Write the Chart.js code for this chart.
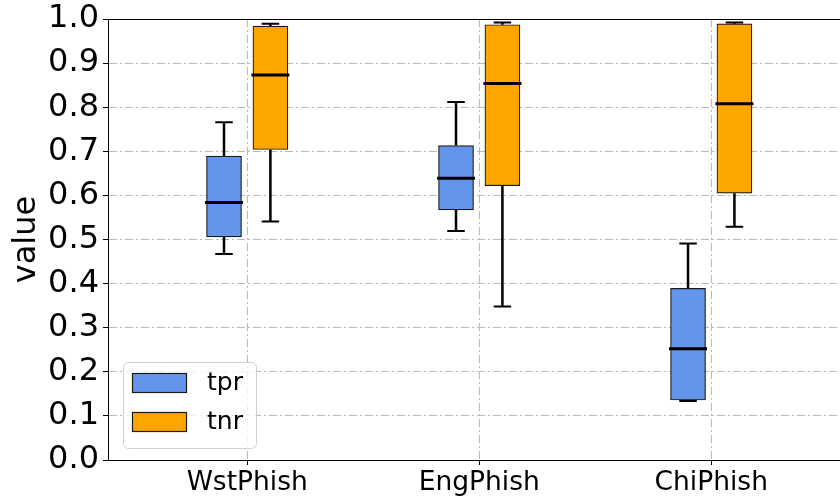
<!DOCTYPE html>
<html>
<head>
<meta charset="utf-8">
<script src="https://cdn.jsdelivr.net/npm/chart.js@4.4.1/dist/chart.umd.min.js"></script>
<style>
  html, body { margin: 0; padding: 0; background: #fff; overflow: hidden; }
  #wrap { width: 840px; height: 497px; }
</style>
</head>
<body>
<div id="wrap"><canvas id="c" width="840" height="497"></canvas></div>
<script>
// Categories and per-series five-number summaries
const categories = ['WstPhish', 'EngPhish', 'ChiPhish'];
const seriesNames = ['tpr', 'tnr'];

const tprMin    = [0.467, 0.519, 0.134];
const tprQ1     = [0.506, 0.567, 0.136];
const tprMedian = [0.584, 0.639, 0.252];
const tprQ3     = [0.689, 0.713, 0.389];
const tprMax    = [0.766, 0.812, 0.491];

const tnrMin    = [0.541, 0.348, 0.529];
const tnrQ1     = [0.704, 0.622, 0.605];
const tnrMedian = [0.873, 0.854, 0.808];
const tnrQ3     = [0.984, 0.987, 0.989];
const tnrMax    = [0.989, 0.992, 0.992];

const yTickValues = [0.0, 0.1, 0.2, 0.3, 0.4, 0.5, 0.6, 0.7, 0.8, 0.9, 1.0];

const stats = [
  { min: tprMin, q1: tprQ1, med: tprMedian, q3: tprQ3, max: tprMax },
  { min: tnrMin, q1: tnrQ1, med: tnrMedian, q3: tnrQ3, max: tnrMax }
];
const colors = ['#6495ED', '#FFA500'];
const groupShift = [-0.1, 0.1];
const FONT = 'DejaVu Sans';

// Boxes are floating bars from Q1 to Q3
const datasets = stats.map((s, di) => ({
  label: seriesNames[di],
  data: categories.map((_, i) => ({ x: i + groupShift[di], y: [s.q1[i], s.q3[i]] })),
  backgroundColor: colors[di],
  borderColor: '#1a1a1a',
  borderWidth: 1.2,
  borderSkipped: false,
  barThickness: 35,
  grouped: false
}));

// Whiskers, caps and medians drawn on top of the boxes
const boxDetails = {
  id: 'boxDetails',
  afterDatasetsDraw(chart) {
    const { ctx, scales: { y } } = chart;
    chart.data.datasets.forEach((ds, di) => {
      const meta = chart.getDatasetMeta(di);
      const s = stats[di];
      meta.data.forEach((bar, i) => {
        const cx = bar.x;
        const half = bar.width / 2;
        const pMin = y.getPixelForValue(s.min[i]);
        const pQ1 = y.getPixelForValue(s.q1[i]);
        const pMed = y.getPixelForValue(s.med[i]);
        const pQ3 = y.getPixelForValue(s.q3[i]);
        const pMax = y.getPixelForValue(s.max[i]);
        ctx.save();
        ctx.strokeStyle = '#000';
        ctx.lineCap = 'butt';
        ctx.lineWidth = 2.5;
        ctx.beginPath();
        ctx.moveTo(cx, pQ3); ctx.lineTo(cx, pMax);
        ctx.moveTo(cx, pQ1); ctx.lineTo(cx, pMin);
        ctx.stroke();
        ctx.lineWidth = 2;
        ctx.beginPath();
        ctx.moveTo(cx - half / 2, pMax); ctx.lineTo(cx + half / 2, pMax);
        ctx.moveTo(cx - half / 2, pMin); ctx.lineTo(cx + half / 2, pMin);
        ctx.stroke();
        ctx.lineWidth = 3;
        ctx.beginPath();
        ctx.moveTo(cx - half - 1.5, pMed); ctx.lineTo(cx + half + 1.5, pMed);
        ctx.stroke();
        ctx.restore();
      });
    });
  }
};

// Top frame line and the in-plot legend
const frameAndLegend = {
  id: 'frameAndLegend',
  afterDraw(chart) {
    const { ctx, chartArea: a } = chart;
    ctx.save();
    ctx.strokeStyle = '#000';
    ctx.lineWidth = 1;
    ctx.beginPath();
    ctx.moveTo(a.left, a.top + 0.5);
    ctx.lineTo(a.right, a.top + 0.5);
    ctx.stroke();

    const lx = a.left + 15, lw = 133, lh = 86;
    const ly = a.bottom - 12 - lh;
    ctx.beginPath();
    ctx.roundRect(lx + 0.5, ly + 0.5, lw, lh, 5);
    ctx.fillStyle = 'rgba(255,255,255,0.8)';
    ctx.fill();
    ctx.strokeStyle = '#d0d0d0';
    ctx.lineWidth = 1;
    ctx.stroke();

    chart.data.datasets.forEach((ds, di) => {
      const py = ly + 11 + di * 39;
      ctx.fillStyle = ds.backgroundColor;
      ctx.fillRect(lx + 9, py, 55, 20);
      ctx.strokeStyle = '#1a1a1a';
      ctx.lineWidth = 1.2;
      ctx.strokeRect(lx + 9.5, py + 0.5, 54, 19);
      ctx.fillStyle = '#000';
      ctx.font = '25px "' + FONT + '"';
      ctx.textBaseline = 'middle';
      ctx.textAlign = 'left';
      ctx.fillText(ds.label, lx + 84, py + 10);
    });
    ctx.restore();
  }
};

const dashDot = [8, 3, 2, 3];

new Chart(document.getElementById('c'), {
  type: 'bar',
  data: { datasets },
  options: {
    responsive: false,
    animation: false,
    devicePixelRatio: 1,
    layout: { padding: { top: 19, right: 0, left: 0, bottom: 0 } },
    plugins: { legend: { display: false }, tooltip: { enabled: false } },
    scales: {
      x: {
        type: 'linear',
        min: -0.6,
        max: 2.555,
        offset: false,
        grid: { offset: false, color: '#b8b8b8', lineWidth: 1, tickColor: '#000', tickLength: 5, tickWidth: 1, borderDash: dashDot },
        border: { display: true, color: '#000', width: 1, dash: dashDot },
        afterBuildTicks(scale) { scale.ticks = categories.map((_, i) => ({ value: i })); },
        afterFit(scale) { scale.height = 37; scale.paddingLeft = 0; scale.paddingRight = 0; },
        ticks: {
          color: '#000',
          padding: 2,
          maxRotation: 0,
          autoSkip: false,
          font: { family: FONT, size: 26.5 },
          callback: (v) => categories[v]
        }
      },
      y: {
        type: 'linear',
        min: 0,
        max: 1,
        grid: { color: '#b8b8b8', lineWidth: 1, tickColor: '#000', tickLength: 5, tickWidth: 1, borderDash: dashDot },
        border: { display: true, color: '#000', width: 1, dash: dashDot },
        afterBuildTicks(scale) { scale.ticks = yTickValues.map(v => ({ value: v })); },
        afterFit(scale) { scale.width = 108; scale.paddingTop = 0; scale.paddingBottom = 0; },
        ticks: {
          color: '#000',
          padding: 4,
          autoSkip: false,
          font: { family: FONT, size: 32 },
          callback: (v) => v.toFixed(1)
        },
        title: {
          display: true,
          text: 'value',
          color: '#000',
          font: { family: FONT, size: 32 },
          padding: { top: 7, bottom: 0 }
        }
      }
    }
  },
  plugins: [boxDetails, frameAndLegend]
});
</script>
</body>
</html>
